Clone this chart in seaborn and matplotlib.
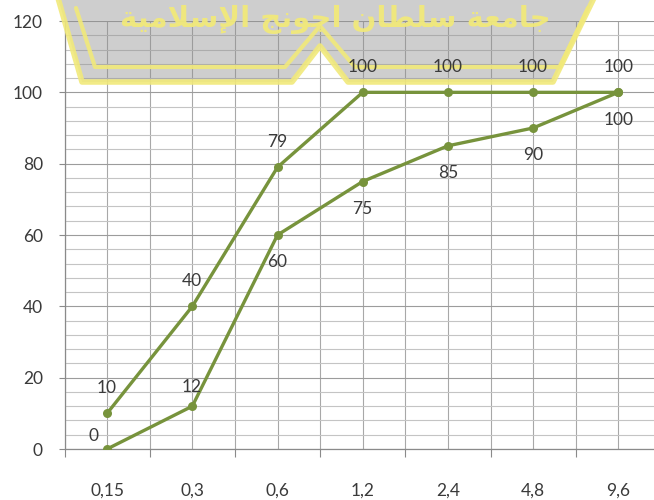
import numpy as np
import pandas as pd
import matplotlib
matplotlib.use("Agg")
import matplotlib.pyplot as plt
from matplotlib.ticker import MultipleLocator, FixedLocator
from matplotlib.transforms import Affine2D
from matplotlib.patches import Polygon
import seaborn as sns

# ---- data -------------------------------------------------------------
sieve_sizes = ["0,15", "0,3", "0,6", "1,2", "2,4", "4,8", "9,6"]
upper_limit = [10, 40, 79, 100, 100, 100, 100]
lower_limit = [0, 12, 60, 75, 85, 90, 100]
y_ticks = [0, 20, 40, 60, 80, 100, 120]

# label offsets (pixels) for each point of each series
upper_offsets = [(0, 25)] * 7
lower_offsets = [(-14, 13), (-1, 19), (0, -27), (0, -27), (0, -27), (0, -27), (0, -28)]

watermark_text = "جامعة سلطان اجونج الإسلامية"

LINE_COLOR = "#77933C"
TEXT_COLOR = "#3a3a3a"

sns.set_theme(style="white")
plt.rcParams["font.family"] = ["Lato", "DejaVu Sans"]

W, H = 654, 500
fig = plt.figure(figsize=(W / 100, H / 100), dpi=100)
ax = fig.add_axes([64.5 / W, 51 / H, 7 * 85.2 / W, 428 / H])

df = pd.DataFrame({
    "size": sieve_sizes * 2,
    "passing": upper_limit + lower_limit,
    "series": ["upper"] * 7 + ["lower"] * 7,
})
sns.lineplot(data=df, x="size", y="passing", hue="series", sort=False,
             palette=[LINE_COLOR, LINE_COLOR], marker="o", markersize=6.5,
             markeredgewidth=0, linewidth=2.4, legend=False, ax=ax, zorder=5)

ax.set_xlim(-0.5, 6.5)
ax.set_ylim(0, 120)
ax.set_xlabel("")
ax.set_ylabel("")

# grid: majors every 20, minors every 4; vertical lines at centres and boundaries
ax.yaxis.set_major_locator(FixedLocator(y_ticks))
ax.yaxis.set_minor_locator(MultipleLocator(4))
ax.xaxis.set_minor_locator(FixedLocator(np.arange(-0.5, 7.0, 1.0)))
ax.grid(True, which="major", axis="y", color="#9c9c9c", linewidth=0.8, zorder=0)
ax.grid(True, which="minor", axis="y", color="#c4c4c4", linewidth=0.8, zorder=0)
ax.grid(True, which="both", axis="x", color="#a8a8a8", linewidth=0.8, zorder=0)
ax.set_axisbelow(True)

ax.tick_params(axis="x", which="major", length=0, pad=24, labelsize=12.5,
               labelcolor=TEXT_COLOR)
ax.tick_params(axis="x", which="minor", length=6, width=0.8, color="#8a8a8a",
               direction="out", bottom=True)
ax.tick_params(axis="y", which="major", length=4.5, width=0.8, color="#8a8a8a",
               direction="out", left=True, pad=11, labelsize=12.5,
               labelcolor=TEXT_COLOR)
ax.tick_params(axis="y", which="minor", length=0)

for side in ["top", "right"]:
    ax.spines[side].set_visible(False)
for side in ["left", "bottom"]:
    ax.spines[side].set_color("#8a8a8a")
    ax.spines[side].set_linewidth(0.9)

# value labels
for i, v in enumerate(upper_limit):
    ax.annotate(str(v), (i, v), xytext=upper_offsets[i], textcoords="offset pixels",
                ha="center", va="center", fontsize=12.5, color=TEXT_COLOR, zorder=7)
for i, v in enumerate(lower_limit):
    ax.annotate(str(v), (i, v), xytext=lower_offsets[i], textcoords="offset pixels",
                ha="center", va="center", fontsize=12.5, color=TEXT_COLOR, zorder=7)


# ---- Arabic shaping for the banner text --------------------------------
FORMS = {
    "ا": ("\uFE8D", "\uFE8E", None, None),
    "إ": ("\uFE87", "\uFE88", None, None),
    "ج": ("\uFE9D", "\uFE9E", "\uFE9F", "\uFEA0"),
    "م": ("\uFEE1", "\uFEE2", "\uFEE3", "\uFEE4"),
    "ع": ("\uFEC9", "\uFECA", "\uFECB", "\uFECC"),
    "ة": ("\uFE93", "\uFE94", None, None),
    "س": ("\uFEB1", "\uFEB2", "\uFEB3", "\uFEB4"),
    "ل": ("\uFEDD", "\uFEDE", "\uFEDF", "\uFEE0"),
    "ط": ("\uFEC1", "\uFEC2", "\uFEC3", "\uFEC4"),
    "ن": ("\uFEE5", "\uFEE6", "\uFEE7", "\uFEE8"),
    "و": ("\uFEED", "\uFEEE", None, None),
    "ي": ("\uFEF1", "\uFEF2", "\uFEF3", "\uFEF4"),
}
LAM_ALEF = {"ا": ("\uFEFB", "\uFEFC"), "إ": ("\uFEF9", "\uFEFA")}


def dual(c):
    return c in FORMS and FORMS[c][2] is not None


def shape_word(word):
    out = []
    i = 0
    prev = None
    while i < len(word):
        c = word[i]
        joins_prev = prev is not None and dual(prev)
        if c == "ل" and i + 1 < len(word) and word[i + 1] in LAM_ALEF:
            iso, fin = LAM_ALEF[word[i + 1]]
            out.append(fin if joins_prev else iso)
            prev = word[i + 1]
            i += 2
            continue
        nxt = word[i + 1] if i + 1 < len(word) else None
        joins_next = nxt is not None and dual(c)
        iso, fin, ini, med = FORMS.get(c, (c, c, c, c))
        if joins_prev and joins_next:
            g = med
        elif joins_prev:
            g = fin
        elif joins_next:
            g = ini
        else:
            g = iso
        out.append(g)
        prev = c
        i += 1
    return "".join(out)


def shape_visual(text):
    return " ".join(shape_word(w) for w in text.split(" "))[::-1]


# ---- banner across the top (pixel coordinates, origin top-left) --------
# drawn inside the axes (unclipped) so the value labels stay on top of it
px = Affine2D().scale(1 / W, -1 / H).translate(0, 1) + fig.transFigure

outer = [(58, -2), (594, -2), (553, 82), (348, 82), (320, 46), (292, 82), (82, 82)]
ax.add_patch(Polygon(outer, closed=True, transform=px, facecolor="#8c8c8c",
                     alpha=0.42, edgecolor="none", zorder=4, clip_on=False))
yellow = "#f1e97a"
outline = [(58, -2), (82, 82), (292, 82), (320, 46), (348, 82), (553, 82), (594, -2)]
inner = [(76, 8), (95, 67), (285, 67), (320, 26), (355, 67), (560, 67), (588, 8)]
for path, lw in [(outline, 4.0), (inner, 3.0)]:
    xs, ys = zip(*path)
    ax.add_line(plt.Line2D(xs, ys, transform=px, color=yellow, linewidth=lw,
                           alpha=0.9, zorder=4.5, clip_on=False))

ax.text(335 / W, 1 - 19 / H, shape_visual(watermark_text), transform=fig.transFigure,
        family="DejaVu Sans", fontsize=21, color=yellow, alpha=0.95,
        ha="center", va="center", fontweight="bold", zorder=4.6, clip_on=False)

fig.savefig("out.png", dpi=100)
